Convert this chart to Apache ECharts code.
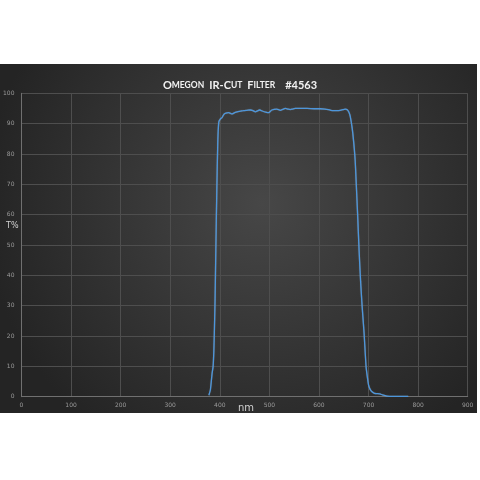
<!DOCTYPE html>
<html><head><meta charset="utf-8">
<script src="https://cdn.jsdelivr.net/npm/echarts@6/dist/echarts.min.js"></script>
<style>html,body{margin:0;padding:0;background:#fff}#c{width:480px;height:480px}</style>
</head><body><div id="c"></div>
<script>
const wavelength = [378,381,384.5,386.5,388,389,390.5,392,394,396,398,401,404.6,408,411,418,424.8,430,435,442,448,455,461.6,467,471.7,476,480,488,493,498.5,505,515,522,527,532,537,542,547,552,565,576,590,602.6,612,619,624,629,636,643,648,653,657,660,663,667,670,673,675,678,681,684,687,691,695,698,700,703,707,712,718,723,728,737,750,765,780];
const transmission = [0.5,2.2,7.7,9.9,15,21,32,48,68,84,90.5,91.5,92.0,93.0,93.4,93.6,93.2,93.6,93.9,94.1,94.3,94.4,94.5,94.3,93.9,94.2,94.5,94.0,93.8,93.6,94.5,94.8,94.4,94.7,95.0,94.8,94.6,94.8,95.0,95.0,95.0,94.9,94.9,94.8,94.6,94.4,94.3,94.3,94.4,94.6,94.8,94.6,93.9,92.5,88.5,84,78,71,60,48,38,30,21,10,6,3.9,2.5,1.6,1.1,1.0,0.9,0.6,0.2,0.1,0.1,0.1];
const xTicks = [0,100,200,300,400,500,600,700,800,900];
const yTicks = [0,10,20,30,40,50,60,70,80,90,100];

const chart = echarts.init(document.getElementById('c'));
chart.setOption({
  animation:false,
  backgroundColor:'#ffffff',
  graphic:[
    {type:'rect',z:-10,shape:{x:0,y:64,width:477,height:349},
     style:{fill:new echarts.graphic.RadialGradient(0.55,0.4,0.8,[{offset:0,color:'#474747'},{offset:1,color:'#242424'}])}},
    {type:'text',left:6,top:222,style:{text:'T%',fill:'#d0d0d0',font:'8px "DejaVu Sans"'}},
    {type:'text',left:238,top:403,style:{text:'nm',fill:'#d0d0d0',font:'10px "DejaVu Sans"'}}
  ],
  title:{
    text:'{b|O}{s|MEGON} {b|IR-C}{s|UT} {b|F}{s|ILTER}  {b|#4563}',
    left:'center', top:71,
    textStyle:{rich:{
      b:{fontSize:11,fontWeight:'bold',color:'#f2f2f2',fontFamily:'Lato'},
      s:{fontSize:8.5,fontWeight:'bold',color:'#f2f2f2',fontFamily:'Lato'}
    }}
  },
  grid:{left:20.7,right:12.3,top:93.3,bottom:83.3,containLabel:false},
  xAxis:{type:'value',min:0,max:900,interval:100,
    axisLine:{show:true,lineStyle:{color:'#707070',width:1}},
    axisTick:{show:false},
    axisLabel:{color:'#9a9a9a',fontSize:6,margin:6,fontFamily:'DejaVu Sans'},
    splitLine:{show:true,lineStyle:{color:'#4e4e4e',width:1}}},
  yAxis:{type:'value',min:0,max:100,interval:10,
    axisLine:{show:true,lineStyle:{color:'#707070',width:1}},
    axisTick:{show:false},
    axisLabel:{color:'#9a9a9a',fontSize:6,margin:7,fontFamily:'DejaVu Sans'},
    splitLine:{show:true,lineStyle:{color:'#4e4e4e',width:1}}},
  series:[{type:'line',data:wavelength.map((w,i)=>[w,transmission[i]]),
    showSymbol:false,smooth:0.2,
    lineStyle:{color:'#4d96db',width:1.3,shadowColor:'rgba(255,255,255,0.25)',shadowBlur:1}}]
});
</script></body></html>
